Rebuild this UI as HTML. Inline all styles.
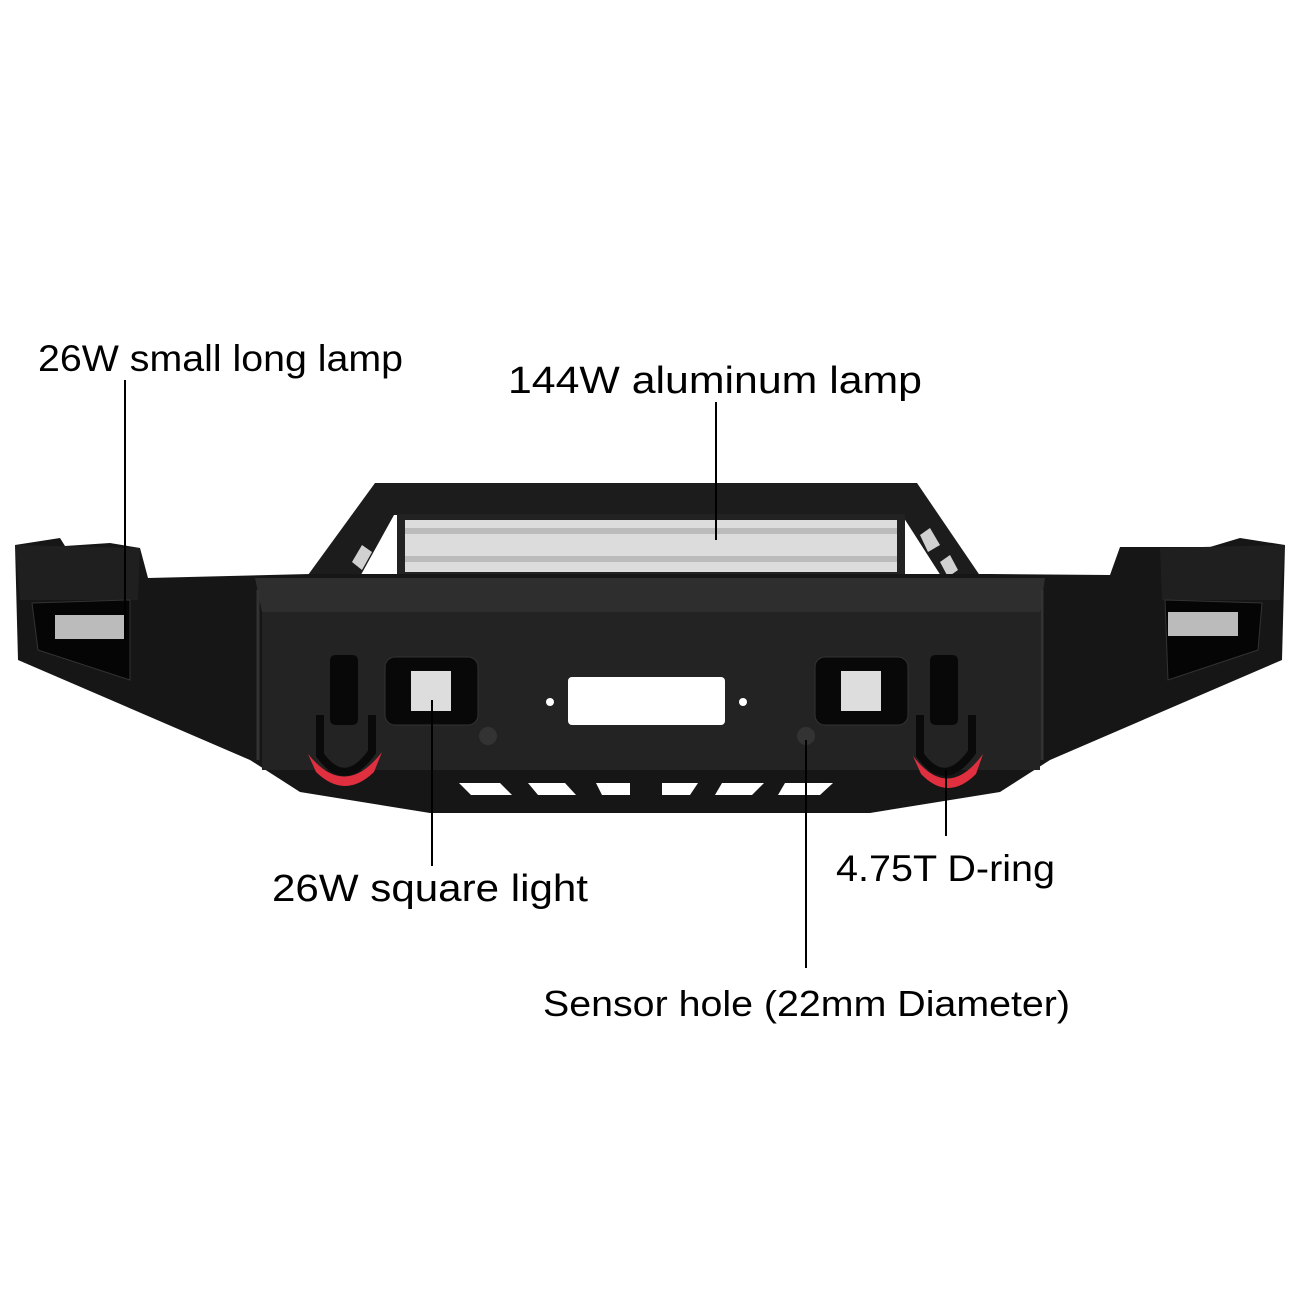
<!DOCTYPE html><html><head><style>body{margin:0;background:#fff}svg{display:block}text{font-family:"Liberation Sans",sans-serif;fill:#000}</style></head><body>
<svg width="1300" height="1300" viewBox="0 0 1300 1300">
<!-- light bar frame -->
<polygon points="375,483 917,483 985,583 950,590 902,515 394,515 357,582 300,586" fill="#1c1c1c"/>
<polygon points="920,535 930,528 940,545 928,552" fill="#fff" opacity=".8"/>
<polygon points="940,562 950,555 958,570 948,577" fill="#fff" opacity=".8"/>
<polygon points="362,545 372,552 362,570 352,562" fill="#fff" opacity=".8"/>
<rect x="397" y="514" width="508" height="64" fill="#222"/>
<rect x="405" y="520" width="492" height="52" fill="#dcdcdc"/>
<g fill="#999">
<rect x="405" y="528" width="492" height="6" opacity=".5"/><rect x="405" y="556" width="492" height="6" opacity=".5"/>
</g>
<!-- main body -->
<polygon points="15,545 60,538 65,546 110,543 140,548 148,578 310,574 990,574 1110,575 1120,547 1210,547 1240,538 1285,545 1282,660 1050,760 1000,792 870,813 430,813 300,792 250,760 18,660" fill="#161616"/>
<polygon points="262,612 1040,612 1040,770 262,770" fill="#232323"/>
<polygon points="255,578 1045,578 1040,612 262,612" fill="#2e2e2e"/>
<polygon points="15,545 140,548 138,600 20,600" fill="#1f1f1f"/>
<polygon points="1285,545 1160,548 1162,600 1280,600" fill="#1f1f1f"/>
<line x1="258" y1="590" x2="258" y2="760" stroke="#333" stroke-width="3"/>
<line x1="1042" y1="590" x2="1042" y2="760" stroke="#333" stroke-width="3"/>
<!-- wing meshes -->
<polygon points="32,603 130,600 130,680 38,650" fill="#050505" stroke="#333"/>
<rect x="55" y="615" width="70" height="24" fill="#bbb"/>
<polygon points="1165,600 1262,603 1258,650 1168,680" fill="#050505" stroke="#333"/>
<rect x="1168" y="612" width="70" height="24" fill="#bbb"/>
<!-- square lights -->
<rect x="385" y="657" width="93" height="68" rx="10" fill="#080808" stroke="#333"/>
<rect x="411" y="671" width="40" height="40" fill="#ddd"/>
<rect x="815" y="657" width="93" height="68" rx="10" fill="#080808" stroke="#333"/>
<rect x="841" y="671" width="40" height="40" fill="#ddd"/>
<!-- winch opening -->
<rect x="568" y="677" width="157" height="48" rx="4" fill="#fff"/>
<circle cx="550" cy="702" r="4" fill="#fff"/><circle cx="743" cy="702" r="4" fill="#fff"/>
<circle cx="488" cy="736" r="9" fill="#333"/><circle cx="806" cy="736" r="9" fill="#333"/>
<!-- shackles -->
<rect x="330" y="655" width="28" height="70" rx="5" fill="#080808"/>
<path d="M320,715 L320,755 Q345,790 372,752 L372,715" fill="none" stroke="#0a0a0a" stroke-width="8"/>
<path d="M308,754 Q345,800 382,752 L374,772 Q345,800 316,772 Z" fill="#e0303f"/>
<rect x="930" y="655" width="28" height="70" rx="5" fill="#080808"/>
<path d="M920,715 L920,755 Q945,790 972,752 L972,715" fill="none" stroke="#0a0a0a" stroke-width="8"/>
<path d="M913,756 Q948,802 983,754 L976,774 Q948,802 921,774 Z" fill="#e0303f"/>
<!-- skid slots -->
<g fill="#fff">
<polygon points="459,783 500,783 512,795 471,795"/><polygon points="528,783 565,783 576,795 538,795"/>
<polygon points="596,783 630,783 630,795 602,795"/><polygon points="662,783 698,783 690,795 662,795"/>
<polygon points="722,783 764,783 752,795 715,795"/><polygon points="785,783 833,783 820,795 778,795"/>
</g>
<!-- leader lines -->
<g stroke="#000" stroke-width="2">
<line x1="125" y1="380" x2="125" y2="640"/>
<line x1="716" y1="402" x2="716" y2="540"/>
<line x1="432" y1="700" x2="432" y2="866"/>
<line x1="946" y1="770" x2="946" y2="836"/>
<line x1="806" y1="740" x2="806" y2="968"/>
</g>
<text x="38" y="371" font-size="37" textLength="365" lengthAdjust="spacingAndGlyphs">26W small long lamp</text>
<text x="508" y="393" font-size="38" textLength="414" lengthAdjust="spacingAndGlyphs">144W aluminum lamp</text>
<text x="272" y="901" font-size="38" textLength="316" lengthAdjust="spacingAndGlyphs">26W square light</text>
<text x="836" y="881" font-size="37" textLength="219" lengthAdjust="spacingAndGlyphs">4.75T D-ring</text>
<text x="543" y="1016" font-size="36" textLength="527" lengthAdjust="spacingAndGlyphs">Sensor hole (22mm Diameter)</text>
</svg>
</body></html>
